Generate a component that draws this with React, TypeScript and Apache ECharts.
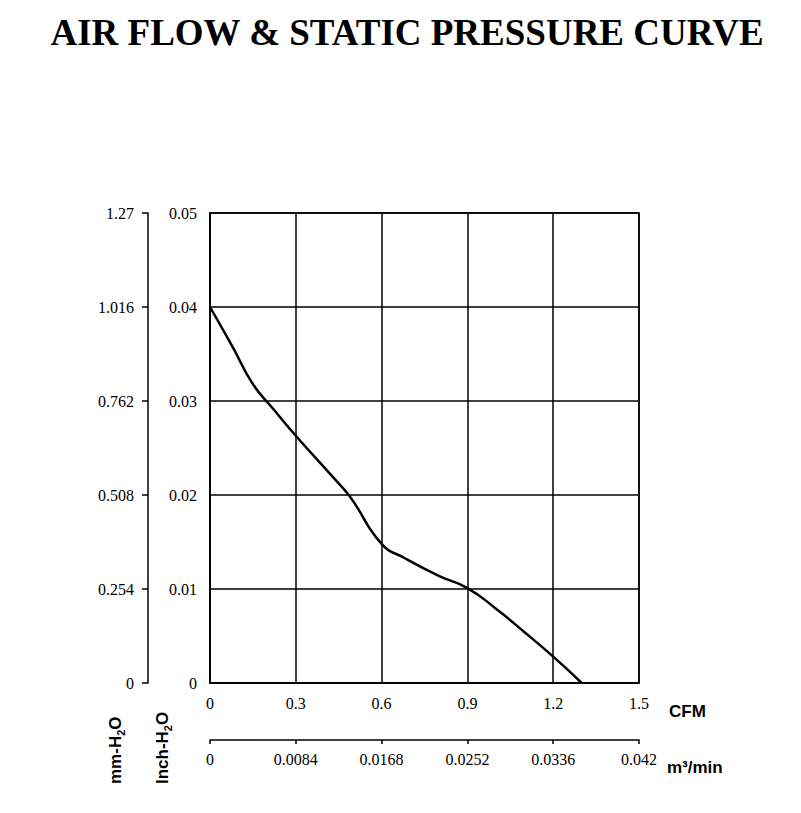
import React, { useEffect, useRef } from "react";
import * as echarts from "echarts";

const cfmValues = [0, 0.08, 0.15, 0.22, 0.3, 0.43, 0.49, 0.6, 0.68, 0.8, 0.9, 1.0, 1.1, 1.2, 1.3];
const pressureInch = [0.04, 0.0357, 0.0318, 0.0292, 0.0263, 0.0219, 0.0198, 0.0148, 0.0133, 0.0114, 0.0101, 0.0079, 0.0054, 0.0028, 0];

const cfmLabels = ["0", "0.3", "0.6", "0.9", "1.2", "1.5"];
const m3Labels = ["0", "0.0084", "0.0168", "0.0252", "0.0336", "0.042"];
const inchLabels = ["0", "0.01", "0.02", "0.03", "0.04", "0.05"];
const mmLabels = ["0", "0.254", "0.508", "0.762", "1.016", "1.27"];

const TITLE = "AIR FLOW & STATIC PRESSURE CURVE";

export default function App() {
  const ref = useRef<HTMLDivElement>(null);
  useEffect(() => {
    if (!ref.current) return;
    const chart = echarts.init(ref.current, null, { renderer: "svg" });
    const serif = "'Liberation Serif', 'Times New Roman', serif";
    const sans = "'Liberation Sans', Arial, sans-serif";
    const labelStyle = { fontFamily: serif, fontSize: 16, color: "#000" };
    const black = "#000";
    const idx = (v: number, step: number) => Math.round(v / step);
    chart.setOption({
      animation: false,
      backgroundColor: "#fff",
      grid: {
        left: 210,
        top: 213,
        width: 429,
        height: 470,
        show: true,
        borderColor: black,
        borderWidth: 1.5,
        containLabel: false,
      },
      xAxis: [
        {
          type: "value",
          position: "bottom",
          min: 0,
          max: 1.5,
          interval: 0.3,
          axisLine: { show: true, lineStyle: { color: black, width: 1.5 } },
          axisTick: { show: false },
          splitLine: { show: true, lineStyle: { color: black, width: 1.5 } },
          axisLabel: { ...labelStyle, margin: 12, formatter: (v: number) => cfmLabels[idx(v, 0.3)] ?? "" },
        },
        {
          type: "value",
          position: "bottom",
          offset: 57,
          min: 0,
          max: 0.042,
          interval: 0.0084,
          axisLine: { show: true, onZero: false, lineStyle: { color: black, width: 1.5 } },
          axisTick: { show: true, length: 4, lineStyle: { color: black, width: 1.5 } },
          splitLine: { show: false },
          axisLabel: { ...labelStyle, margin: 11, formatter: (v: number) => m3Labels[idx(v, 0.0084)] ?? "" },
        },
      ],
      yAxis: [
        {
          type: "value",
          position: "left",
          min: 0,
          max: 0.05,
          interval: 0.01,
          axisLine: { show: true, lineStyle: { color: black, width: 1.5 } },
          axisTick: { show: false },
          splitLine: { show: true, lineStyle: { color: black, width: 1.5 } },
          axisLabel: { ...labelStyle, margin: 13, formatter: (v: number) => inchLabels[idx(v, 0.01)] ?? "" },
        },
        {
          type: "value",
          position: "left",
          offset: 62,
          min: 0,
          max: 1.27,
          interval: 0.254,
          axisLine: { show: true, onZero: false, lineStyle: { color: black, width: 1.5 } },
          axisTick: { show: true, length: 6, lineStyle: { color: black, width: 1.5 } },
          splitLine: { show: false },
          axisLabel: { ...labelStyle, margin: 14, formatter: (v: number) => mmLabels[idx(v, 0.254)] ?? "" },
        },
      ],
      series: [
        {
          type: "line",
          xAxisIndex: 0,
          yAxisIndex: 0,
          data: cfmValues.map((x, i) => [x, pressureInch[i]]),
          smooth: 0.5,
          showSymbol: false,
          symbol: "none",
          lineStyle: { color: black, width: 2.5 },
          clip: false,
        },
      ],
      graphic: [
        {
          type: "text",
          x: 407,
          y: 32,
          style: {
            text: TITLE,
            fontFamily: serif,
            fontWeight: "bold",
            fontSize: 37,
            fill: black,
            textAlign: "center",
            textVerticalAlign: "middle",
          },
        },
        {
          type: "text",
          x: 669,
          y: 711,
          style: {
            text: "CFM",
            fontFamily: sans,
            fontWeight: "bold",
            fontSize: 17,
            fill: black,
            textAlign: "left",
            textVerticalAlign: "middle",
          },
        },
        {
          type: "text",
          x: 667,
          y: 767,
          style: {
            text: "m³/min",
            fontFamily: sans,
            fontWeight: "bold",
            fontSize: 17,
            fill: black,
            textAlign: "left",
            textVerticalAlign: "middle",
          },
        },
        {
          type: "text",
          x: 115,
          y: 784,
          rotation: Math.PI / 2,
          style: {
            text: "{a|mm-H}{s|2}{a|O}",
            textAlign: "left",
            textVerticalAlign: "middle",
            rich: {
              a: { fontFamily: sans, fontWeight: "bold", fontSize: 17, fill: black, lineHeight: 22, verticalAlign: "middle" },
              s: { fontFamily: sans, fontWeight: "bold", fontSize: 11, fill: black, lineHeight: 22, verticalAlign: "bottom" },
            },
          },
        },
        {
          type: "text",
          x: 162,
          y: 784,
          rotation: Math.PI / 2,
          style: {
            text: "{a|Inch-H}{s|2}{a|O}",
            textAlign: "left",
            textVerticalAlign: "middle",
            rich: {
              a: { fontFamily: sans, fontWeight: "bold", fontSize: 17, fill: black, lineHeight: 22, verticalAlign: "middle" },
              s: { fontFamily: sans, fontWeight: "bold", fontSize: 11, fill: black, lineHeight: 22, verticalAlign: "bottom" },
            },
          },
        },
      ],
    });
    return () => chart.dispose();
  }, []);
  return (
    <div
      ref={ref}
      style={{ position: "absolute", left: 0, top: 0, width: 801, height: 813, background: "#fff" }}
    />
  );
}
